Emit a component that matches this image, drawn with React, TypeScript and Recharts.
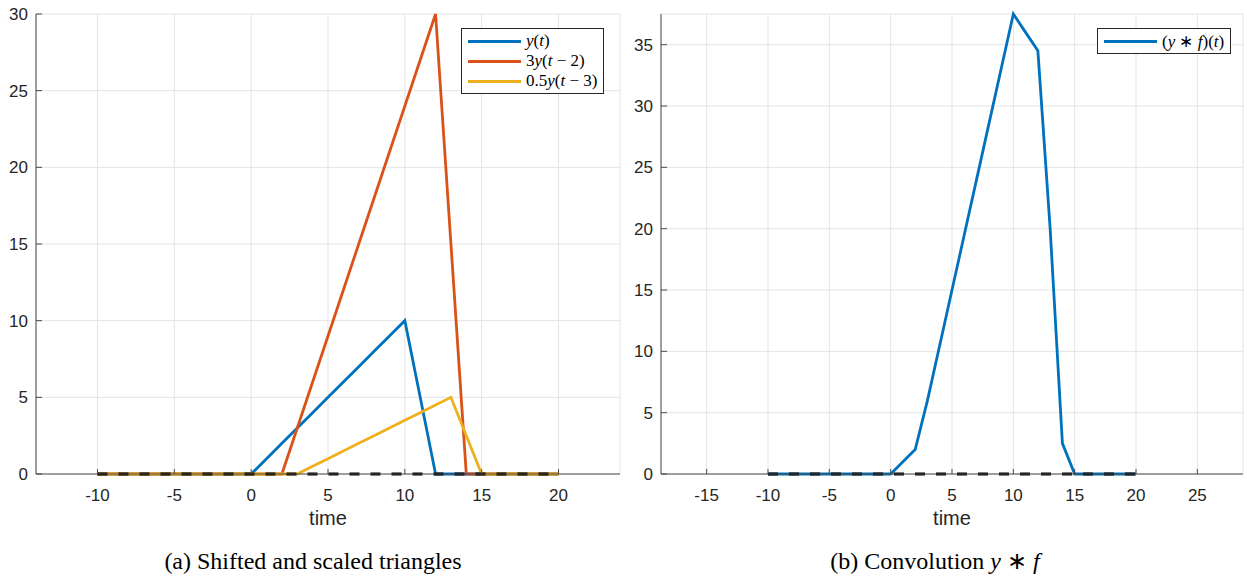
import React from "react";
import { LineChart, Line, XAxis, YAxis, CartesianGrid, Legend } from "recharts";

// sample times and series values
const TIME = [-10, -9, -8, -7, -6, -5, -4, -3, -2, -1, 0, 1, 2, 3, 4, 5, 6, 7, 8, 9, 10, 11, 12, 13, 14, 15, 16, 17, 18, 19, 20];
const Y_T = [0, 0, 0, 0, 0, 0, 0, 0, 0, 0, 0, 1, 2, 3, 4, 5, 6, 7, 8, 9, 10, 5, 0, 0, 0, 0, 0, 0, 0, 0, 0];
const Y_3_SHIFT2 = [0, 0, 0, 0, 0, 0, 0, 0, 0, 0, 0, 0, 0, 3, 6, 9, 12, 15, 18, 21, 24, 27, 30, 15, 0, 0, 0, 0, 0, 0, 0];
const Y_HALF_SHIFT3 = [0, 0, 0, 0, 0, 0, 0, 0, 0, 0, 0, 0, 0, 0, 0.5, 1, 1.5, 2, 2.5, 3, 3.5, 4, 4.5, 5, 2.5, 0, 0, 0, 0, 0, 0];
const CONV = [0, 0, 0, 0, 0, 0, 0, 0, 0, 0, 0, 1, 2, 6, 10.5, 15, 19.5, 24, 28.5, 33, 37.5, 36, 34.5, 20, 2.5, 0, 0, 0, 0, 0, 0];
const ZERO = [0, 0, 0, 0, 0, 0, 0, 0, 0, 0, 0, 0, 0, 0, 0, 0, 0, 0, 0, 0, 0, 0, 0, 0, 0, 0, 0, 0, 0, 0, 0];

const X_TICKS_A = [-10, -5, 0, 5, 10, 15, 20];
const Y_TICKS_A = [0, 5, 10, 15, 20, 25, 30];
const X_TICKS_B = [-15, -10, -5, 0, 5, 10, 15, 20, 25];
const Y_TICKS_B = [0, 5, 10, 15, 20, 25, 30, 35];

const BLUE = "#0072BD";
const ORANGE = "#D95319";
const YELLOW = "#EDB120";
const AXIS = "#4a4a4a";
const TEXT = "#262626";
const GRID = "#e4e4e4";
const SANS = "'Liberation Sans', Arial, Helvetica, sans-serif";
const SERIF = "'Liberation Serif', 'Times New Roman', serif";
const LW = 2.8;

const dataA = TIME.map((t, i) => ({ t, y: Y_T[i], y3: Y_3_SHIFT2[i], yh: Y_HALF_SHIFT3[i], zero: ZERO[i] }));
const dataB = TIME.map((t, i) => ({ t, conv: CONV[i], zero: ZERO[i] }));

// matlab style: ticks pointing into the plot
const YTick = (props: any) => {
  const { x, y, payload } = props;
  const ax = x + 8;
  return (
    <g>
      <line x1={ax} x2={ax + 6} y1={y} y2={y} stroke={AXIS} />
      <text x={x} y={y} dy="0.36em" textAnchor="end" fill={TEXT} fontSize={17} fontFamily={SANS}>
        {payload.value}
      </text>
    </g>
  );
};

const XTick = (props: any) => {
  const { x, y, payload } = props;
  const ay = y - 15;
  return (
    <g>
      <line x1={x} x2={x} y1={ay} y2={ay - 5} stroke={AXIS} />
      <text x={x} y={y} dy="0.71em" textAnchor="middle" fill={TEXT} fontSize={17} fontFamily={SANS}>
        {payload.value}
      </text>
    </g>
  );
};

const mathLabel = (s: string) =>
  s.split("").map((c, i) =>
    /[a-z]/.test(c) ? <i key={i}>{c}</i> : <span key={i}>{c}</span>
  );

const renderLegend = (props: any) => {
  const items = (props.payload || []).filter((p: any) => p.type !== "none").slice().reverse();
  return (
    <div style={{ border: `1px solid ${TEXT}`, background: "#fff", padding: "2px 6px 2px 6px" }}>
      {items.map((it: any) => (
        <div key={it.value} style={{ display: "flex", alignItems: "center", height: 20 }}>
          <span style={{ width: 53, height: 3, background: it.color, marginRight: 5, display: "inline-block" }} />
          <span style={{ fontFamily: SERIF, fontSize: 17, color: "#000", whiteSpace: "nowrap" }}>
            {mathLabel(it.value)}
          </span>
        </div>
      ))}
    </div>
  );
};

const axisProps = {
  axisLine: { stroke: AXIS },
  tickLine: false,
  tickSize: 0,
};

export default function App() {
  return (
    <div style={{ position: "absolute", left: 0, top: 0, width: 1247, height: 577, background: "#fff" }}>
      <div style={{ position: "absolute", left: 0, top: 0 }}>
        <LineChart width={640} height={540} data={dataA} margin={{ top: 14, right: 20, left: 0, bottom: 11 }}>
          <CartesianGrid stroke={GRID} />
          <XAxis
            {...axisProps}
            type="number"
            dataKey="t"
            domain={[-14, 24]}
            ticks={X_TICKS_A}
            interval={0}
            height={55}
            tickMargin={15}
            tick={<XTick />}
            label={{ value: "time", position: "insideBottom", offset: 4, fill: TEXT, fontSize: 20, fontFamily: SANS }}
          />
          <YAxis
            {...axisProps}
            type="number"
            domain={[0, 30]}
            ticks={Y_TICKS_A}
            interval={0}
            width={36}
            tickMargin={8}
            tick={<YTick />}
          />
          <Legend
            layout="vertical"
            align="center"
            verticalAlign="middle"
            content={renderLegend}
            wrapperStyle={{ position: "absolute", left: 461, top: 28, width: "auto", height: "auto" }}
          />
          <Line type="linear" dataKey="y" name="y(t)" stroke={BLUE} strokeWidth={LW} dot={false} isAnimationActive={false} />
          <Line type="linear" dataKey="y3" name="3y(t − 2)" stroke={ORANGE} strokeWidth={LW} dot={false} isAnimationActive={false} />
          <Line type="linear" dataKey="yh" name="0.5y(t − 3)" stroke={YELLOW} strokeWidth={LW} dot={false} isAnimationActive={false} />
          <Line type="linear" dataKey="zero" stroke="#000" strokeWidth={3.2} strokeDasharray="10 11" dot={false} legendType="none" isAnimationActive={false} />
        </LineChart>
      </div>

      <div style={{ position: "absolute", left: 625, top: 0 }}>
        <LineChart width={622} height={540} data={dataB} margin={{ top: 14, right: 4, left: 0, bottom: 11 }}>
          <CartesianGrid stroke={GRID} />
          <XAxis
            {...axisProps}
            type="number"
            dataKey="t"
            domain={[-18.72, 28.72]}
            ticks={X_TICKS_B}
            interval={0}
            height={55}
            tickMargin={15}
            tick={<XTick />}
            label={{ value: "time", position: "insideBottom", offset: 4, fill: TEXT, fontSize: 20, fontFamily: SANS }}
          />
          <YAxis
            {...axisProps}
            type="number"
            domain={[0, 37.5]}
            ticks={Y_TICKS_B}
            interval={0}
            width={36}
            tickMargin={8}
            tick={<YTick />}
          />
          <Legend
            layout="vertical"
            align="center"
            verticalAlign="middle"
            content={renderLegend}
            wrapperStyle={{ position: "absolute", left: 472, top: 28, width: "auto", height: "auto" }}
          />
          <Line type="linear" dataKey="conv" name="(y ∗ f)(t)" stroke={BLUE} strokeWidth={LW} dot={false} isAnimationActive={false} />
          <Line type="linear" dataKey="zero" stroke="#000" strokeWidth={3.2} strokeDasharray="10 11" dot={false} legendType="none" isAnimationActive={false} />
        </LineChart>
      </div>

      <div style={{ position: "absolute", left: 0, top: 547, width: 626, textAlign: "center", fontFamily: SERIF, fontSize: 24, lineHeight: "28px", color: "#000" }}>
        (a) Shifted and scaled triangles
      </div>
      <div style={{ position: "absolute", left: 626, top: 547, width: 618, textAlign: "center", fontFamily: SERIF, fontSize: 24, lineHeight: "28px", color: "#000" }}>
        (b) Convolution <i>y</i> ∗ <i>f</i>
      </div>
    </div>
  );
}
